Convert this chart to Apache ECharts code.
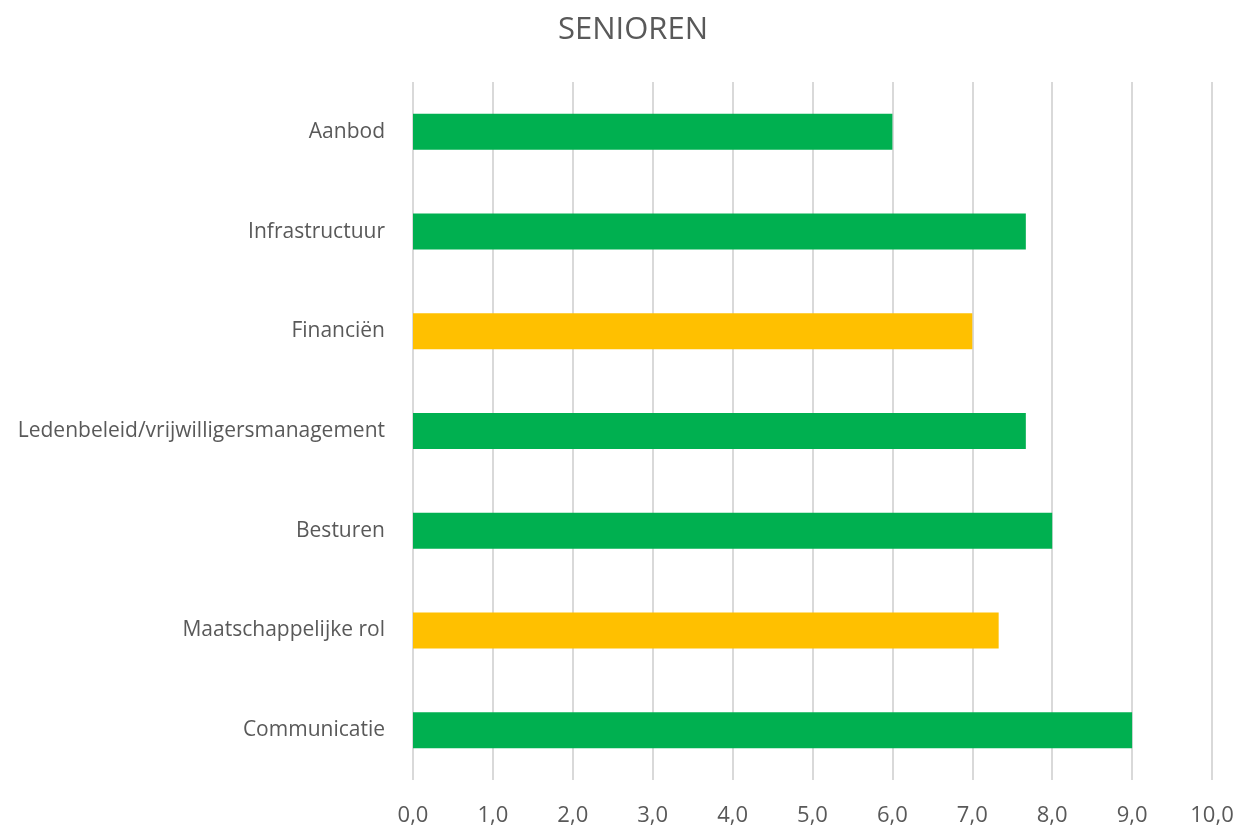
<!DOCTYPE html>
<html>
<head>
<meta charset="utf-8">
<script src="https://cdn.jsdelivr.net/npm/echarts@6/dist/echarts.min.js"></script>
<style>
  html, body { margin: 0; padding: 0; background: #fff; }
  #chart { width: 1237px; height: 825px; }
</style>
</head>
<body>
<div id="chart"></div>
<script>
// data
var categories = [
  "Aanbod",
  "Infrastructuur",
  "Financiën",
  "Ledenbeleid/vrijwilligersmanagement",
  "Besturen",
  "Maatschappelijke rol",
  "Communicatie"
];
var scores = [6.0, 7.67, 7.0, 7.67, 8.0, 7.33, 9.0];
var xTicks = [0, 1, 2, 3, 4, 5, 6, 7, 8, 9, 10];

// styles
var green = "#00B050";
var yellow = "#FFC000";
var barColors = [green, green, yellow, green, green, yellow, green];
var textColor = "#595959";
var fontFamily = "'Open Sans', 'Noto Sans', sans-serif";

var chart = echarts.init(document.getElementById("chart"));
chart.setOption({
  animation: false,
  title: {
    text: "SENIOREN",
    left: 553,
    top: 10,
    textStyle: {
      color: textColor,
      fontSize: 31,
      fontWeight: "normal",
      fontFamily: fontFamily
    }
  },
  grid: {
    left: 413,
    right: 25,
    top: 82,
    bottom: 45,
    containLabel: false,
    outerBoundsMode: "none"
  },
  xAxis: {
    type: "value",
    min: xTicks[0],
    max: xTicks[xTicks.length - 1],
    interval: 1,
    axisLine: { show: false },
    axisTick: { show: false },
    splitLine: { lineStyle: { color: "#D9D9D9", width: 2 } },
    axisLabel: {
      color: textColor,
      fontSize: 22,
      fontFamily: fontFamily,
      margin: 25,
      formatter: function(v) {
        return v.toFixed(1).replace(".", ",");
      }
    }
  },
  yAxis: {
    type: "category",
    data: categories,
    inverse: true,
    axisLine: { show: false },
    axisTick: { show: false },
    axisLabel: {
      color: textColor,
      fontSize: 21,
      fontFamily: fontFamily,
      margin: 28
    }
  },
  series: [
    {
      type: "bar",
      data: scores,
      barWidth: 36,
      itemStyle: {
        color: function(params) {
          return barColors[params.dataIndex];
        }
      }
    }
  ]
});
</script>
</body>
</html>
